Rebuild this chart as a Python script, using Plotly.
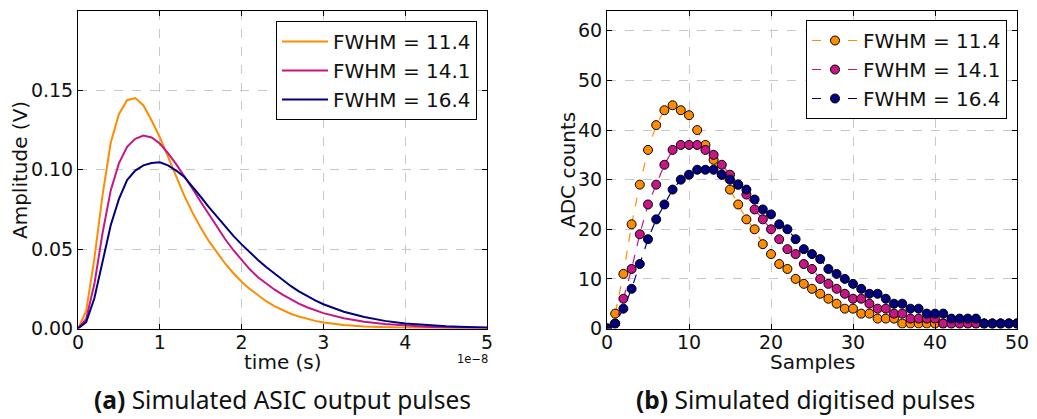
import plotly.graph_objects as go

# ---------------- data ----------------
# (a) simulated ASIC output pulses, time in units of 1e-8 s
time_s = [0.0, 0.1, 0.2, 0.3, 0.4, 0.5, 0.6, 0.7, 0.8, 0.9,
          1.0, 1.1, 1.2, 1.3, 1.4, 1.5, 1.6, 1.7, 1.8, 1.9,
          2.0, 2.1, 2.2, 2.3, 2.4, 2.5, 2.6, 2.7, 2.8, 2.9,
          3.0, 3.25, 3.5, 3.75, 4.0, 4.25, 4.5, 4.75, 5.0]

amp_114 = [0.0, 0.011, 0.044, 0.084, 0.117, 0.135, 0.1438, 0.1452, 0.1405, 0.131,
           0.1205, 0.108, 0.096, 0.0835, 0.073, 0.0635, 0.055, 0.0475, 0.0408, 0.0348,
           0.0295, 0.0249, 0.0208, 0.0172, 0.0141, 0.0115, 0.0093, 0.0075, 0.006, 0.0048,
           0.0038, 0.0022, 0.0013, 0.0008, 0.0005, 0.0003, 0.0002, 0.0001, 0.0001]

amp_141 = [0.0, 0.006, 0.028, 0.060, 0.087, 0.104, 0.1145, 0.1195, 0.1215, 0.1203,
           0.1165, 0.1105, 0.1035, 0.096, 0.088, 0.0798, 0.0718, 0.0638, 0.0562, 0.0493,
           0.043, 0.0373, 0.0323, 0.0283, 0.0246, 0.0213, 0.0183, 0.0157, 0.0134, 0.0114,
           0.0097, 0.0065, 0.0043, 0.0028, 0.0018, 0.0011, 0.0007, 0.0004, 0.0003]

amp_164 = [0.0, 0.004, 0.019, 0.0425, 0.065, 0.0815, 0.0935, 0.0995, 0.1028, 0.1043,
           0.1047, 0.1028, 0.0995, 0.0955, 0.0895, 0.083, 0.0765, 0.0702, 0.064, 0.0583,
           0.053, 0.048, 0.0432, 0.0387, 0.0346, 0.0305, 0.0268, 0.0234, 0.0204, 0.0177,
           0.0153, 0.0106, 0.0072, 0.0048, 0.0032, 0.0021, 0.0014, 0.0009, 0.0006]

# (b) simulated digitised pulses
samples = list(range(51))
adc_114 = [0, 3, 11, 21, 29, 36, 41, 44, 45, 44, 43, 40, 37, 34, 31, 28, 25, 22, 20, 17,
           15, 13, 12, 10, 9, 8, 7, 6, 5, 4, 4, 3, 3, 2, 2, 2, 1, 1, 1, 1,
           1, 1, 1, 1, 1, 1, 1, 1, 1, 1, 1]
adc_141 = [0, 1, 6, 12, 19, 25, 29, 33, 36, 37, 37, 37, 36, 35, 33, 31, 29, 27, 24, 22,
           20, 18, 16, 15, 13, 12, 10, 9, 8, 7, 6, 6, 5, 4, 4, 3, 3, 2, 2, 2,
           2, 1, 1, 1, 1, 1, 1, 1, 1, 1, 1]
adc_164 = [0, 1, 4, 8, 13, 18, 22, 25, 28, 30, 31, 32, 32, 32, 31, 30, 29, 28, 26, 24,
           23, 21, 20, 18, 16, 15, 14, 12, 11, 10, 9, 8, 7, 7, 6, 5, 5, 4, 4, 3,
           3, 3, 2, 2, 2, 2, 1, 1, 1, 1, 1]

series_names = ["FWHM = 11.4", "FWHM = 14.1", "FWHM = 16.4"]
colors = ["#FF8C00", "#C71585", "#000080"]

# ---------------- figure ----------------
W, H = 1037, 419
fig = go.Figure()

for name, col, vals in zip(series_names, colors, [amp_114, amp_141, amp_164]):
    fig.add_trace(go.Scatter(x=time_s, y=vals, mode="lines", name=name,
                             line=dict(color=col, width=2),
                             xaxis="x", yaxis="y", legend="legend",
                             legendgroup="a" + name))

for name, col, vals in zip(series_names, colors, [adc_114, adc_141, adc_164]):
    fig.add_trace(go.Scatter(x=samples, y=vals, mode="lines+markers", name=name,
                             line=dict(color=col, width=1.2, dash="dash"),
                             marker=dict(size=9, color=col, line=dict(color="black", width=1)),
                             xaxis="x2", yaxis="y2", legend="legend2",
                             legendgroup="b" + name))

FONT = "DejaVu Sans, Verdana, sans-serif"
tickfont = dict(family=FONT, size=19, color="#111")
common = dict(showline=True, linecolor="black", linewidth=1, mirror="allticks",
              ticks="inside", ticklen=5, tickcolor="black", tickwidth=1,
              showgrid=True, gridcolor="#c8c8c8", griddash="dash", gridwidth=1,
              zeroline=False, tickfont=tickfont, automargin=False)

y_dom = [1 - 328.5 / H, 1 - 11 / H]
legend_common = dict(xanchor="right", yanchor="top",
                     bordercolor="black", borderwidth=1, bgcolor="white",
                     font=dict(family=FONT, size=20, color="#111"),
                     tracegroupgap=0, itemwidth=46)
fig.update_layout(
    width=W, height=H,
    margin=dict(l=0, r=0, t=0, b=0, autoexpand=False),
    paper_bgcolor="white", plot_bgcolor="white",
    xaxis=dict(domain=[78 / W, 487 / W], range=[0, 5], dtick=1, anchor="y",
               ticklabelstandoff=-3, **common),
    yaxis=dict(domain=y_dom, range=[0, 0.2], dtick=0.05, tickformat=".2f", anchor="x", **common),
    xaxis2=dict(domain=[607 / W, 1017 / W], range=[0, 50], dtick=10, anchor="y2",
                ticklabelstandoff=-3, **common),
    yaxis2=dict(domain=y_dom, range=[0, 64], tickvals=[0, 10, 20, 30, 40, 50, 60], anchor="x2", **common),
    legend=dict(x=477 / W, y=1 - 21 / H, **legend_common),
    legend2=dict(x=1007 / W, y=1 - 20 / H, **legend_common),
)

ann_font = dict(family=FONT, size=20, color="#111")
cap_font = dict(family="Noto Sans", size=24.5, color="#111")
annotations = [
    dict(text="time (s)", x=283 / W, y=1 - 362 / H, font=ann_font),
    dict(text="Samples", x=812 / W, y=1 - 362 / H, font=ann_font),
    dict(text="Amplitude (V)", x=20 / W, y=1 - 170 / H, textangle=-90, font=ann_font),
    dict(text="ADC counts", x=568 / W, y=1 - 170 / H, textangle=-90, font=ann_font),
    dict(text="1e\u22128", x=472 / W, y=1 - 359 / H, font=dict(family=FONT, size=11.5, color="#111")),
    dict(text="<b>(a)</b> Simulated ASIC output pulses", x=282.5 / W, y=1 - 399 / H, font=cap_font),
    dict(text="<b>(b)</b> Simulated digitised pulses", x=805.5 / W, y=1 - 399 / H, font=cap_font),
]
for a in annotations:
    a.update(xref="paper", yref="paper", showarrow=False, xanchor="center", yanchor="middle")
fig.update_layout(annotations=annotations)

fig.write_html("out.html")
